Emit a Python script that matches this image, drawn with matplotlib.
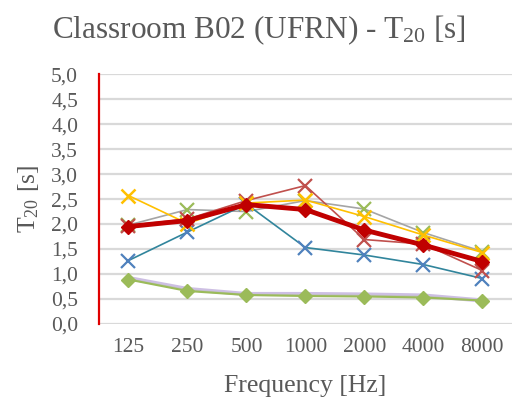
import numpy as np
import matplotlib.pyplot as plt

plt.rcParams['font.family'] = ['Liberation Serif', 'DejaVu Serif']
plt.rcParams['mathtext.fontset'] = 'custom'
plt.rcParams['mathtext.rm'] = 'Liberation Serif'
plt.rcParams['mathtext.it'] = 'Liberation Serif'

freqs = ['125', '250', '500', '1000', '2000', '4000', '8000']
yticks = np.arange(0, 5.01, 0.5)

# measured T20 per position
pos_blue = [1.27, 1.84, 2.40, 1.53, 1.38, 1.19, 0.91]
pos_yellow = [2.57, 2.01, 2.42, 2.48, 2.15, 1.78, 1.43]
pos_gray = [1.98, 2.29, 2.25, 2.47, 2.30, 1.83, 1.45]
pos_red = [1.97, 2.10, 2.47, 2.77, 1.69, 1.60, 1.07]
mean_t20 = [1.95, 2.07, 2.39, 2.29, 1.88, 1.58, 1.25]

# lower curves
low_purple = [0.92, 0.70, 0.60, 0.60, 0.59, 0.57, 0.47]
low_gray = [0.90, 0.68, 0.59, 0.58, 0.57, 0.55, 0.47]
low_green = [0.89, 0.66, 0.58, 0.56, 0.55, 0.53, 0.47]

x = np.arange(len(freqs))

fig = plt.figure(figsize=(5.17, 4.05), dpi=100)
ax = fig.add_axes([0.1915, 0.2, 0.7985, 0.617])

for v in yticks:
    ax.axhline(v, color='#D9D9D9', lw=1.6, zorder=0)

ax.plot(x, low_purple, color='#CDBFE3', lw=3, zorder=2)
ax.plot(x, low_gray, color='#BFBFBF', lw=1.2, zorder=2)
ax.plot(x, low_green, color='#9BBB59', lw=1.5, marker='D', ms=7,
        mfc='#9BBB59', mec='#9BBB59', zorder=3)

ax.plot(x, pos_gray, color='#A5A5A5', lw=1.2, marker='x', ms=10, mew=1.6,
        mec='#9BBB59', zorder=3)
ax.plot(x, pos_blue, color='#31859C', lw=1.2, marker='x', ms=10, mew=1.6,
        mec='#4F81BD', zorder=3)
ax.plot(x, pos_red, color='#C0504D', lw=1.2, marker='x', ms=10, mew=1.6,
        mec='#C0504D', zorder=3)
ax.plot(x, pos_yellow, color='#FFC000', lw=1.2, marker='x', ms=10, mew=1.8,
        mec='#FFC000', zorder=3)
ax.plot(x, mean_t20, color='#C00000', lw=3.5, marker='D', ms=7,
        mfc='#C00000', mec='#C00000', zorder=4)

ax.set_xlim(-0.5, len(freqs) - 0.5)
ax.set_ylim(0, 5)
ax.set_xticks(x)
ax.set_xticklabels(freqs)
ax.set_yticks(yticks)
ax.set_yticklabels([f'{v:.1f}'.replace('.', ',') for v in yticks])
ax.tick_params(length=0, labelsize=15.5, labelcolor='#595959')
ax.tick_params(axis='x', pad=10)
ax.tick_params(axis='y', pad=15)

for s in ['top', 'right', 'bottom']:
    ax.spines[s].set_visible(False)
ax.spines['left'].set_color('#E00000')
ax.spines['left'].set_linewidth(1.6)

ax.set_xlabel('Frequency [Hz]', fontsize=18.5, color='#595959', labelpad=13)
ax.set_ylabel('T$_{20}$ [s]', fontsize=18.5, color='#595959', labelpad=7)
fig.text(0.5, 0.925, 'Classroom B02 (UFRN) - T$_{20}$ [s]', ha='center',
         va='center', fontsize=22.5, color='#595959')

fig.savefig('out.png', dpi=100)
